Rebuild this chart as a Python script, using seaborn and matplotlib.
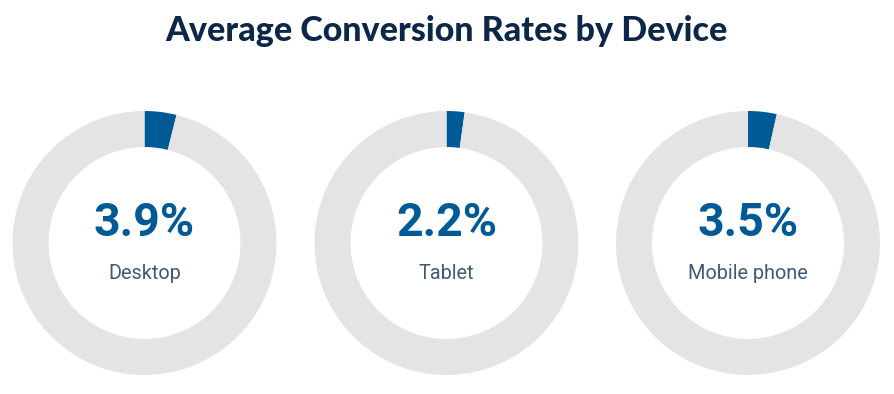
import matplotlib
matplotlib.use('Agg')
import matplotlib.pyplot as plt
import seaborn as sns

devices = ['Desktop', 'Tablet', 'Mobile phone']
rates = [3.9, 2.2, 3.5]

BLUE = '#005a96'
GRAY = '#e4e4e4'
NAVY = '#0c2748'
LABEL = '#3e5a78'


def main():
    sns.set_theme(style='white')
    plt.rcParams['font.family'] = ['Roboto', 'DejaVu Sans']

    W, H = 895, 394
    fig = plt.figure(figsize=(W / 100, H / 100), dpi=100)
    fig.patch.set_facecolor('white')

    centers_x = [144.5, 446.5, 748]
    cy = 151
    r = 132

    for cx, dev, rate in zip(centers_x, devices, rates):
        ax = fig.add_axes([(cx - r) / W, (cy - r) / H, 2 * r / W, 2 * r / H])
        ax.pie([rate, 100 - rate], colors=[BLUE, GRAY], startangle=90,
               counterclock=False, radius=1,
               wedgeprops={'width': 0.273, 'linewidth': 0})
        ax.set_xlim(-1, 1)
        ax.set_ylim(-1, 1)
        ax.set_aspect('equal')
        ax.axis('off')
        ax.text(0, 0.15, f'{rate}%', ha='center', va='center',
                fontsize=33.5, fontweight='bold', color=BLUE)
        ax.text(0, -0.23, dev, ha='center', va='center',
                fontsize=14.3, color=LABEL)

    fig.text(447 / W, 1 - 31 / H, 'Average Conversion Rates by Device',
             ha='center', va='center', fontsize=24.5, fontweight='black',
             color=NAVY, family=['Lato', 'DejaVu Sans'])

    fig.savefig('out.png', dpi=100, facecolor='white')


if __name__ == '__main__':
    main()
